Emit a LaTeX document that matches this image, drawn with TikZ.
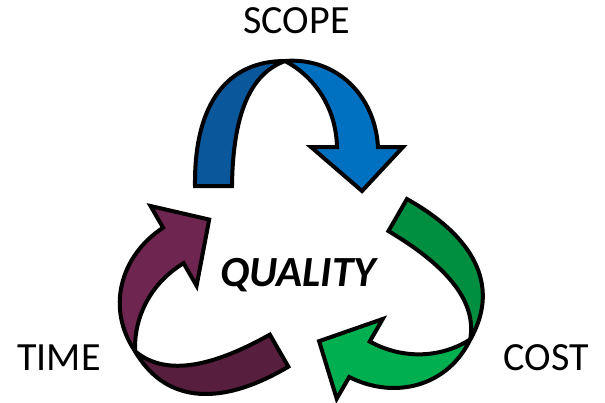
\documentclass[tikz,border=0pt]{standalone}
\usepackage{fontspec}
\setmainfont{Carlito}
\definecolor{scopeback}{RGB}{10,88,155}
\definecolor{scopefront}{RGB}{0,112,192}
\definecolor{costback}{RGB}{0,142,64}
\definecolor{costfront}{RGB}{0,176,80}
\definecolor{timeback}{RGB}{88,30,62}
\definecolor{timefront}{RGB}{110,37,80}
% one twisted ribbon arrow, drawn in the place of the top one
\newcommand{\cyclearrow}[2]{%
  \draw[band, fill=#1] (195,186) .. controls (194,100) and (230,61) .. (285,61)
    .. controls (255,72) and (233,105) .. (232,186) -- cycle;
  \draw[band, fill=#2] (285,61) .. controls (336,57) and (375,95) .. (378,147)
    -- (403,147) -- (362,191) -- (311,147) -- (337,147)
    .. controls (336,105) and (312,75) .. (285,61) -- cycle;
}
\begin{document}
\begin{tikzpicture}[x=0.5pt, y=-0.5pt,
  band/.style={line width=2pt, line join=miter, miter limit=4},
  lbl/.style={anchor=base, inner sep=0pt, font=\fontsize{20}{24}\selectfont}]
\useasboundingbox (0,0) rectangle (605,402);

% Arrows
\cyclearrow{scopeback}{scopefront}
\begin{scope}[shift={(3.3,4.3)}, rotate around={-120:(296.8,250.6)}]
\cyclearrow{costback}{costfront}
\end{scope}
\begin{scope}[shift={(-3.4,-4.4)}, rotate around={120:(296.8,250.6)}]
\cyclearrow{timeback}{timefront}
\end{scope}

% Labels
\node[lbl] (scope) at (296.5,33) {SCOPE};
\node[lbl] (time) at (59,370) {TIME};
\node[lbl] (cost) at (546.5,370) {COST};
\node[lbl, font=\fontsize{21.5}{26}\selectfont\bfseries\itshape] (quality) at (298,286) {QUALITY};

\end{tikzpicture}
\end{document}
